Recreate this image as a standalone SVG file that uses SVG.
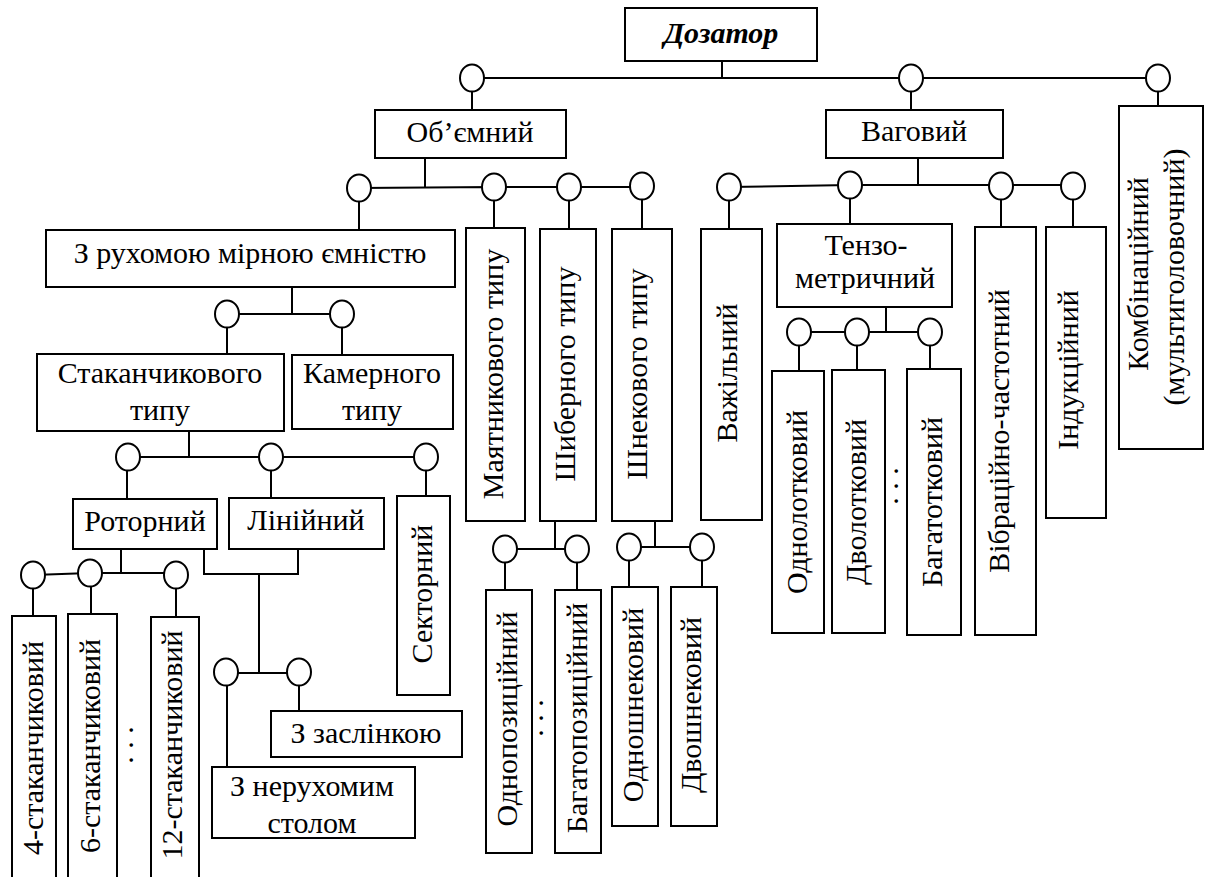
<svg xmlns="http://www.w3.org/2000/svg" width="1205" height="877" viewBox="0 0 1205 877" font-family="Liberation Serif, Times New Roman, serif">
<style>
.box{fill:#fff;stroke:#000;stroke-width:2}
.ln{stroke:#000;stroke-width:2;fill:none}
.c{fill:#fff;stroke:#000;stroke-width:2}
.t{font-size:30px;fill:#000;text-anchor:middle}
.b{font-weight:bold;font-style:italic}
</style>
<rect width="1205" height="877" fill="#fff"/>
<g id="connectors">
<path class="ln" d="M722,61V78M472,78H1158M472,78V110M911,78V110M1158,78V106"/>
<path class="ln" d="M425,158V187M359,188L494,187H642M359,188V230M494,187V228M569,187V229M642,186V229"/>
<path class="ln" d="M918,158V185M729,187L850,185H1073M729,187V229M850,185V224M1001,186V227M1073,186V227"/>
<path class="ln" d="M292,287V314M227,314H342M227,314V354M342,314V355"/>
<path class="ln" d="M189,431V457M128,457H426M127,457V499M271,457V498M426,457V496"/>
<path class="ln" d="M121,549V574M33,575L90,573H176M33,575V616M91,573V614M176,575V617"/>
<path class="ln" d="M204,549V574H298V549M259,574V673M226,673H299M227,673V767M299,673V711"/>
<path class="ln" d="M555,521V549M505,549H577M505,549V590M577,549V590"/>
<path class="ln" d="M655,521V547M629,547H702M629,547V587M702,547V587"/>
<path class="ln" d="M886,307V332M799,332H930M799,332V371M857,332V370M930,332V369"/>
<g id="junctions">
<ellipse class="c" cx="472" cy="78" rx="12" ry="13.5"/>
<ellipse class="c" cx="911" cy="78" rx="12" ry="13.5"/>
<ellipse class="c" cx="1158" cy="78" rx="12" ry="13.5"/>
<ellipse class="c" cx="359" cy="188" rx="12" ry="13.5"/>
<ellipse class="c" cx="494" cy="187" rx="12" ry="13.5"/>
<ellipse class="c" cx="569" cy="187" rx="12" ry="13.5"/>
<ellipse class="c" cx="642" cy="186" rx="12" ry="13.5"/>
<ellipse class="c" cx="729" cy="187" rx="12" ry="13.5"/>
<ellipse class="c" cx="850" cy="185" rx="12" ry="13.5"/>
<ellipse class="c" cx="1001" cy="186" rx="12" ry="13.5"/>
<ellipse class="c" cx="1073" cy="186" rx="12" ry="13.5"/>
<ellipse class="c" cx="227" cy="314" rx="12" ry="13.5"/>
<ellipse class="c" cx="342" cy="314" rx="12" ry="13.5"/>
<ellipse class="c" cx="128" cy="457" rx="12" ry="13.5"/>
<ellipse class="c" cx="271" cy="457" rx="12" ry="13.5"/>
<ellipse class="c" cx="426" cy="457" rx="12" ry="13.5"/>
<ellipse class="c" cx="33" cy="575" rx="12" ry="13.5"/>
<ellipse class="c" cx="90" cy="573" rx="12" ry="13.5"/>
<ellipse class="c" cx="176" cy="575" rx="12" ry="13.5"/>
<ellipse class="c" cx="226" cy="672" rx="12" ry="13.5"/>
<ellipse class="c" cx="299" cy="672" rx="12" ry="13.5"/>
<ellipse class="c" cx="505" cy="549" rx="12" ry="13.5"/>
<ellipse class="c" cx="577" cy="549" rx="12" ry="13.5"/>
<ellipse class="c" cx="629" cy="547" rx="12" ry="13.5"/>
<ellipse class="c" cx="702" cy="547" rx="12" ry="13.5"/>
<ellipse class="c" cx="799" cy="332" rx="12" ry="13.5"/>
<ellipse class="c" cx="857" cy="332" rx="12" ry="13.5"/>
<ellipse class="c" cx="930" cy="332" rx="12" ry="13.5"/>
</g>
</g>
<g id="n-dozator"><rect class="box" x="625" y="8" width="192" height="53"/><text class="t b" x="721" y="43">Дозатор</text></g>
<g id="n-obyemnyi"><rect class="box" x="375" y="110" width="191" height="48"/><text class="t" x="470" y="142">Об’ємний</text></g>
<g id="n-vagovyi"><rect class="box" x="826" y="110" width="177" height="48"/><text class="t" x="914" y="141">Ваговий</text></g>
<g id="n-kombin"><rect class="box" x="1119" y="106" width="84" height="343"/><text class="t" transform="translate(1148,274) rotate(-90)">Комбінаційний</text><text class="t" transform="translate(1184,277) rotate(-90)">(мультиголовочний)</text></g>
<g id="n-ruhomoyu"><rect class="box" x="46" y="230" width="409" height="57"/><text class="t" x="250" y="263">З рухомою мірною ємністю</text></g>
<g id="n-mayatn"><rect class="box" x="466" y="228" width="59" height="293"/><text class="t" transform="translate(503,374) rotate(-90)">Маятникового типу</text></g>
<g id="n-shiber"><rect class="box" x="540" y="229" width="56" height="292"/><text class="t" transform="translate(575,374) rotate(-90)">Шиберного типу</text></g>
<g id="n-shnek"><rect class="box" x="612" y="229" width="60" height="292"/><text class="t" transform="translate(647,374) rotate(-90)">Шнекового типу</text></g>
<g id="n-vazhil"><rect class="box" x="701" y="229" width="61" height="291"/><text class="t" transform="translate(737,373) rotate(-90)">Важільний</text></g>
<g id="n-tenzo"><rect class="box" x="777" y="224" width="175" height="83"/><text class="t" x="866" y="255">Тензо-</text><text class="t" x="865" y="288">метричний</text></g>
<g id="n-vibr"><rect class="box" x="975" y="227" width="61" height="408"/><text class="t" transform="translate(1009,431) rotate(-90)">Вібраційно-частотний</text></g>
<g id="n-induk"><rect class="box" x="1046" y="227" width="60" height="291"/><text class="t" transform="translate(1078,370) rotate(-90)">Індукційний</text></g>
<g id="n-stakan"><rect class="box" x="37" y="354" width="247" height="77"/><text class="t" x="160" y="383">Стаканчикового</text><text class="t" x="160" y="420">типу</text></g>
<g id="n-kamer"><rect class="box" x="292" y="355" width="161" height="74"/><text class="t" x="372" y="383">Камерного</text><text class="t" x="372" y="420">типу</text></g>
<g id="n-rotor"><rect class="box" x="73" y="499" width="144" height="50"/><text class="t" x="145" y="531">Роторний</text></g>
<g id="n-liniyn"><rect class="box" x="229" y="498" width="155" height="51"/><text class="t" x="306" y="530">Лінійний</text></g>
<g id="n-sektor"><rect class="box" x="397" y="496" width="53" height="199"/><text class="t" transform="translate(432,594) rotate(-90)">Секторний</text></g>
<g id="n-st4"><rect class="box" x="12" y="616" width="44" height="270"/><text class="t" transform="translate(43,748) rotate(-90)">4-стаканчиковий</text></g>
<g id="n-st6"><rect class="box" x="68" y="614" width="49" height="272"/><text class="t" transform="translate(100,746) rotate(-90)">6-стаканчиковий</text></g>
<g id="n-dots1"><text class="t" transform="translate(133,745) rotate(-90)">. . .</text></g>
<g id="n-st12"><rect class="box" x="151" y="617" width="48" height="270"/><text class="t" transform="translate(182,745) rotate(-90)">12-стаканчиковий</text></g>
<g id="n-zaslin"><rect class="box" x="271" y="711" width="191" height="46"/><text class="t" x="366" y="743">З заслінкою</text></g>
<g id="n-neruh"><rect class="box" x="212" y="767" width="203" height="71"/><text class="t" x="312" y="796">З нерухомим</text><text class="t" x="312" y="833">столом</text></g>
<g id="n-odnopoz"><rect class="box" x="486" y="590" width="46" height="263"/><text class="t" transform="translate(517,719) rotate(-90)">Однопозиційний</text></g>
<g id="n-dots2"><text class="t" transform="translate(543,718) rotate(-90)">. . .</text></g>
<g id="n-bagatopoz"><rect class="box" x="555" y="590" width="46" height="263"/><text class="t" transform="translate(587,718) rotate(-90)">Багатопозиційний</text></g>
<g id="n-odnoshnek"><rect class="box" x="612" y="587" width="46" height="239"/><text class="t" transform="translate(643,705) rotate(-90)">Одношнековий</text></g>
<g id="n-dvoshnek"><rect class="box" x="671" y="587" width="46" height="239"/><text class="t" transform="translate(701,705) rotate(-90)">Двошнековий</text></g>
<g id="n-odnolot"><rect class="box" x="772" y="371" width="52" height="262"/><text class="t" transform="translate(807,502) rotate(-90)">Однолотковий</text></g>
<g id="n-dvolot"><rect class="box" x="832" y="370" width="53" height="263"/><text class="t" transform="translate(866,502) rotate(-90)">Дволотковий</text></g>
<g id="n-dots3"><text class="t" transform="translate(898,486) rotate(-90)">. . .</text></g>
<g id="n-bagatolot"><rect class="box" x="907" y="369" width="54" height="266"/><text class="t" transform="translate(942,502) rotate(-90)">Багатотковий</text></g>
</svg>
